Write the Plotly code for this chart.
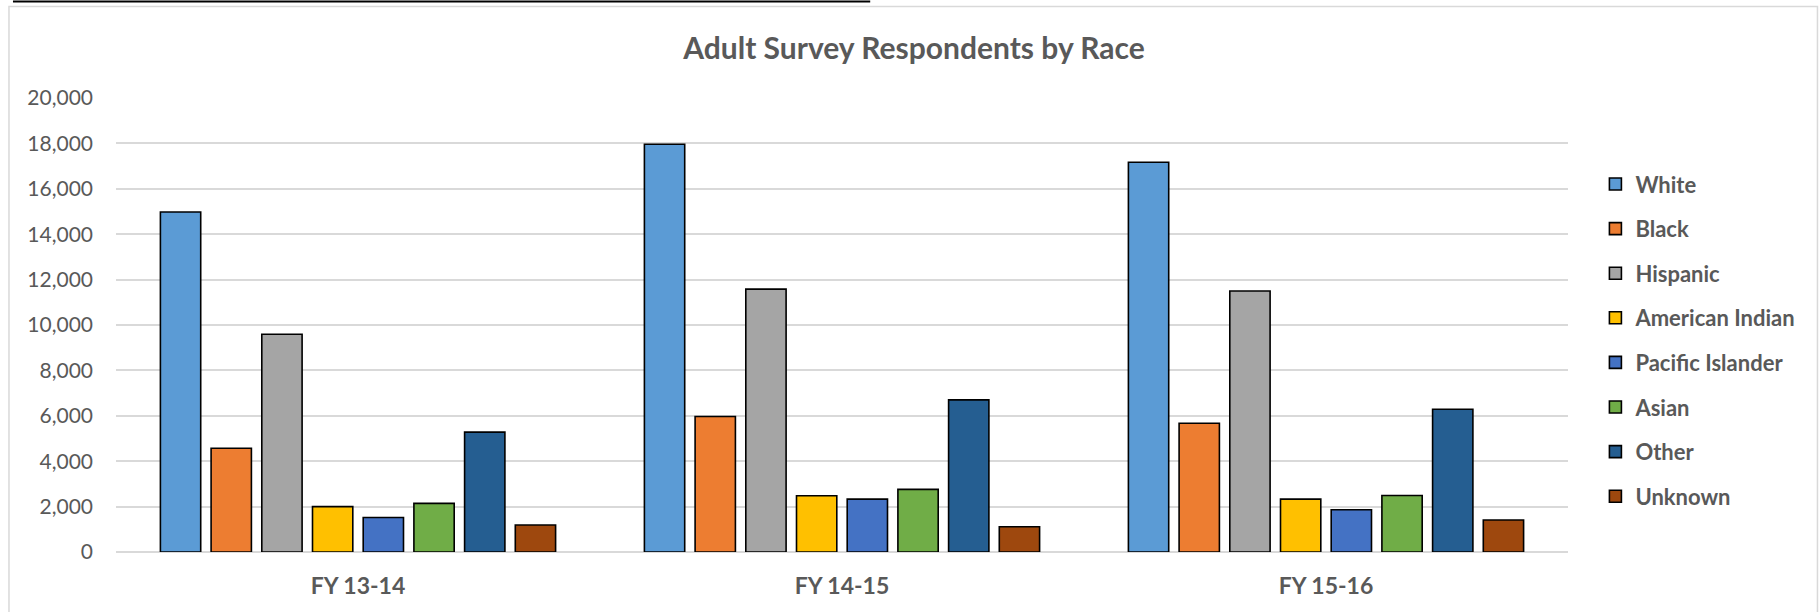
import plotly.graph_objects as go

categories = ["FY 13-14", "FY 14-15", "FY 15-16"]
races = ["White", "Black", "Hispanic", "American Indian", "Pacific Islander", "Asian", "Other", "Unknown"]

white = [14980, 17960, 17170]
black = [4570, 5970, 5670]
hispanic = [9590, 11580, 11500]
american_indian = [2000, 2480, 2330]
pacific_islander = [1520, 2330, 1860]
asian = [2140, 2760, 2490]
other = [5280, 6700, 6290]
unknown = [1190, 1110, 1410]

series = [white, black, hispanic, american_indian, pacific_islander, asian, other, unknown]
colors = ["#5B9BD5", "#ED7D31", "#A5A5A5", "#FFC000", "#4472C4", "#70AD47", "#255E91", "#9E480E"]

tick_vals = [0, 2000, 4000, 6000, 8000, 10000, 12000, 14000, 16000, 18000, 20000]
tick_text = ["0", "2,000", "4,000", "6,000", "8,000", "10,000", "12,000", "14,000", "16,000", "18,000", "20,000"]

W, H = 1820, 612
L, R = 116, 1567.6
T, B = 97.7, 552.3

FONT = "Lato"
GRAY = "#595959"

fig = go.Figure()
for name, vals, col in zip(races, series, colors):
    fig.add_trace(go.Bar(
        x=categories, y=vals, name=name, legendgroup=name,
        marker=dict(color=col, line=dict(color="#000000", width=1.6)),
    ))

fig.update_layout(
    width=W, height=H,
    margin=dict(l=L, r=W - R, t=T, b=H - B, autoexpand=False),
    paper_bgcolor="white", plot_bgcolor="white",
    barmode="group", bargap=0.162, bargroupgap=0.205,
    title=dict(text="<b>Adult Survey Respondents by Race</b>", x=914 / W, xanchor="center",
               y=1 - 48 / H, yanchor="middle",
               font=dict(family=FONT, size=30, color=GRAY)),
    font=dict(family=FONT, color=GRAY),
    legend=dict(
        x=(1595 - L) / (R - L), xanchor="left",
        y=(B - 163) / (B - T), yanchor="top",
        font=dict(family=FONT, size=22, color=GRAY, weight="bold"),
        tracegroupgap=13, bgcolor="rgba(0,0,0,0)",
    ),
    showlegend=True,
)
fig.update_yaxes(
    range=[0, 20000], tickvals=tick_vals, ticktext=tick_text,
    showgrid=True, gridcolor="#D9D9D9", gridwidth=1.5,
    zeroline=True, zerolinecolor="#D9D9D9", zerolinewidth=1.5,
    showline=False, ticks="", ticklabelstandoff=22,
    tickfont=dict(family=FONT, size=21, color=GRAY),
)
fig.update_xaxes(
    showgrid=False, showline=False, ticks="", ticklabelstandoff=18,
    tickfont=dict(family=FONT, size=23, color=GRAY, weight="bold"),
)

# chart border and clipped caption underline
fig.add_shape(type="rect", xref="paper", yref="paper",
              x0=(9 - L) / (R - L), x1=(1817 - L) / (R - L),
              y0=(B - 640) / (B - T), y1=(B - 6) / (B - T),
              line=dict(color="#D9D9D9", width=1.5), fillcolor="rgba(0,0,0,0)", layer="below")
fig.add_shape(type="line", xref="paper", yref="paper",
              x0=(13 - L) / (R - L), x1=(870 - L) / (R - L),
              y0=(B - 1) / (B - T), y1=(B - 1) / (B - T),
              line=dict(color="#000000", width=2))

fig.write_html("out.html", config={"displayModeBar": False},
               post_script="document.body.style.margin='0';document.body.style.overflow='hidden';")
